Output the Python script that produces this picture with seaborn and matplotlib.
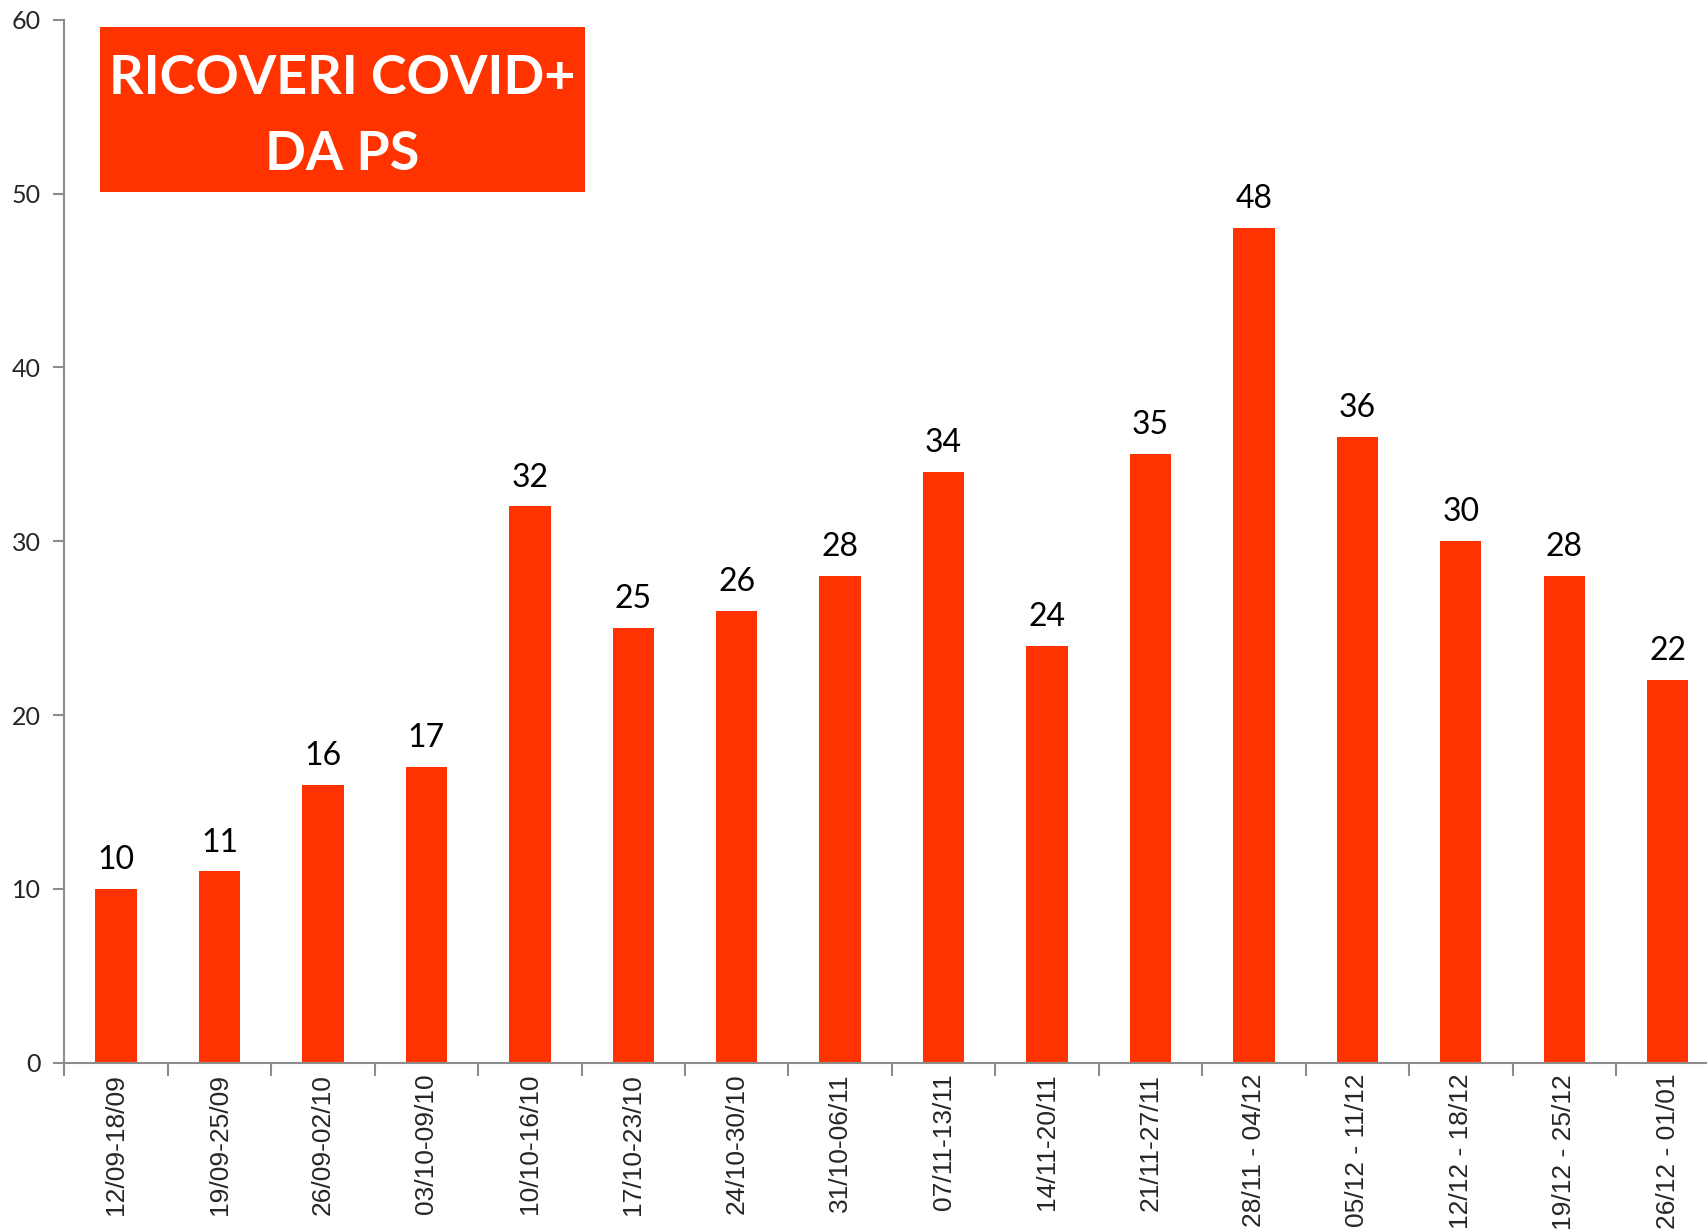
import matplotlib
matplotlib.use("Agg")
import matplotlib.pyplot as plt
import seaborn as sns
from matplotlib.patches import Rectangle

# weekly hospital admissions from ER (COVID+)
weeks = ['12/09-18/09', '19/09-25/09', '26/09-02/10', '03/10-09/10', '10/10-16/10',
         '17/10-23/10', '24/10-30/10', '31/10-06/11', '07/11-13/11', '14/11-20/11',
         '21/11-27/11', '28/11 - 04/12', '05/12 - 11/12', '12/12 - 18/12',
         '19/12 - 25/12', '26/12 - 01/01']
ricoveri = [10, 11, 16, 17, 32, 25, 26, 28, 34, 24, 35, 48, 36, 30, 28, 22]
yticks = [0, 10, 20, 30, 40, 50, 60]
title_lines = ['RICOVERI COVID+', 'DA PS']

red = '#FF3300'
grey = '#8c8c8c'

sns.set_style('white')
plt.rcParams['font.family'] = ['Liberation Sans', 'DejaVu Sans']

fig = plt.figure(figsize=(17.07, 12.30), dpi=100)
ax = fig.add_axes([0.0377, 0.136, 1 - 0.0377, 0.848])

sns.barplot(x=weeks, y=ricoveri, color=red, saturation=1, width=0.4,
            linewidth=0, ax=ax)

for c in ax.containers:
    ax.bar_label(c, padding=10, fontsize=23, family='Lato', color='black')

# category labels on minor ticks, boundary tick marks on major ticks
ax.set_xticks([i - 0.5 for i in range(len(weeks) + 1)], labels=[''] * (len(weeks) + 1))
ax.set_xticks(range(len(weeks)), labels=weeks, minor=True)
ax.tick_params(axis='x', which='major', length=9, width=1.5, color=grey,
               direction='out', bottom=True)
ax.tick_params(axis='x', which='minor', length=0, labelsize=19, rotation=90, pad=8)

ax.set_ylim(0, 60)
ax.set_yticks(yticks, labels=[str(v) for v in yticks], fontsize=18, family='Lato')
ax.tick_params(axis='y', length=8, width=1.5, color=grey,
               direction='out', left=True, pad=9)
ax.set_xlim(-0.5, 15.38)
ax.set_xlabel('')
ax.set_ylabel('')

sns.despine(ax=ax, top=True, right=True)
for s in ['left', 'bottom']:
    ax.spines[s].set_color(grey)
    ax.spines[s].set_linewidth(1.5)

# title box
ax.add_patch(Rectangle((0.0217, 0.835), 0.295, 0.158, transform=ax.transAxes,
                       facecolor=red, edgecolor='none', zorder=5))
ax.text(0.0217 + 0.295 / 2, 0.944, title_lines[0], transform=ax.transAxes,
        ha='center', va='center', color='white', fontsize=38.8, fontweight='bold',
        family='Lato', zorder=6)
ax.text(0.0217 + 0.295 / 2, 0.871, title_lines[1], transform=ax.transAxes,
        ha='center', va='center', color='white', fontsize=38.8, fontweight='bold',
        family='Lato', zorder=6)

fig.savefig('out.png', dpi=100)
